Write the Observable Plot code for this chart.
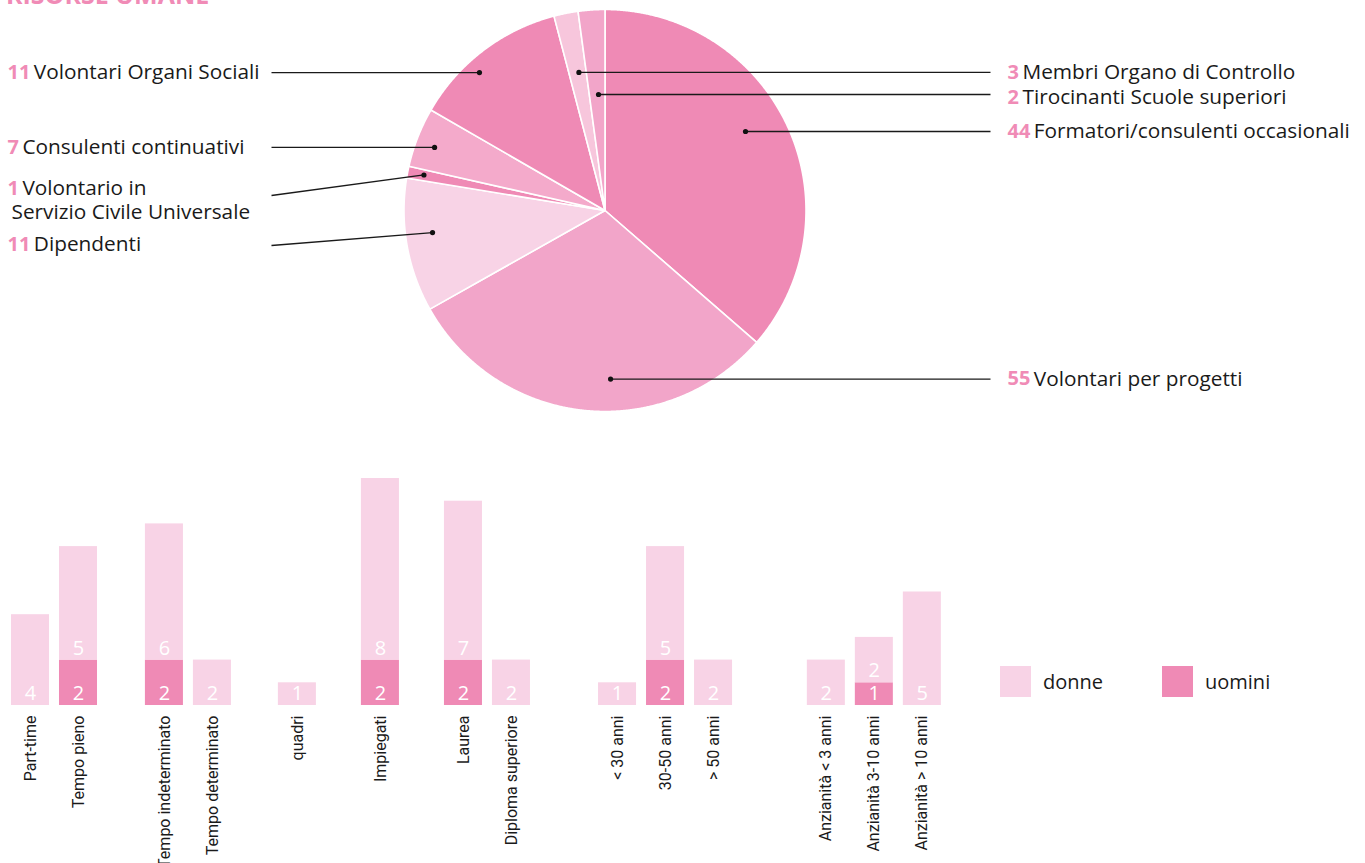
<!DOCTYPE html>
<html><head><meta charset="utf-8">
<script src="https://cdn.jsdelivr.net/npm/d3@7"></script>
<script src="https://cdn.jsdelivr.net/npm/@observablehq/plot@0.6"></script>
<style>
body{margin:0;background:#fff;width:1365px;height:863px;overflow:hidden;position:relative;font-family:"Open Sans",sans-serif;}
#title{position:absolute;left:6px;top:-18px;font:700 25px/25px "Open Sans";color:#F08BB6;white-space:nowrap}
#pie{position:absolute;left:0;top:0}
#bars{position:absolute;left:0;top:420px}
#legend{position:absolute;left:1000px;top:666px;display:flex;align-items:center;font:20px "Open Sans";color:#1a1a1a}
#legend .item{display:flex;align-items:center;width:162px}
#legend .sw{width:31px;height:31px;margin-right:12px}
</style></head><body>
<div id="title">RISORSE UMANE</div>
<div id="pie"></div><div id="bars"></div><div id="legend"></div>
<script>
// ---------- DATA ----------
const pieCategories = ["Formatori/consulenti occasionali","Volontari per progetti","Dipendenti","Volontario in\nServizio Civile Universale","Consulenti continuativi","Volontari Organi Sociali","Membri Organo di Controllo","Tirocinanti Scuole superiori"];
const pieCounts = [44, 55, 11, 1, 7, 11, 3, 2];
// slice sizes as drawn in the picture (degrees of arc)
const pieSliceDegrees = [131, 109.6, 38.7, 3.4, 17.3, 45.3, 7.0, 7.7];

const barCategories = ["Part-time","Tempo pieno","Tempo indeterminato","Tempo determinato","quadri","Impiegati","Laurea","Diploma superiore","< 30 anni","30-50 anni","> 50 anni","Anzianità < 3 anni","Anzianità 3-10 anni","Anzianità > 10 anni"];
const barGroups = [0,0,1,1,2,3,4,4,5,5,5,6,6,6];
const donne  = [4,5,6,2,1,8,7,2,1,5,2,2,2,5];
const uomini = [0,2,2,0,0,2,2,0,0,2,0,0,1,0];
const seriesNames = ["donne","uomini"];

// ---------- STYLE / LAYOUT ----------
const DARK = "#EF8AB5", MED = "#F2A5C9", LIGHT = "#F8D3E6";
const pieColors = [DARK, MED, LIGHT, DARK, "#F4AACB", DARK, "#F7C6DC", MED];
const seriesColors = [LIGHT, DARK];
const cx = 604.5, cy = 210, R = 201;
const pieLayout = [
  {side:"right", angle:60.65, rf:0.802, labelY:131},
  {side:"right", angle:178.1, rf:0.839, labelY:379},
  {side:"left",  angle:262.7, rf:0.865, labelY:244, lineY:245},
  {side:"left",  angle:281.1, rf:0.918, labelY:188, lineY:195},
  {side:"left",  angle:290.3, rf:0.904, labelY:147},
  {side:"left",  angle:317.7, rf:0.928, labelY:72},
  {side:"right", angle:349.3, rf:0.699, labelY:72},
  {side:"right", angle:356.8, rf:0.578, labelY:97, lineY:94}
];
const labelX = {left:7, right:1007}, lineEndX = {left:271, right:990};
const labelFont = "Open Sans", labelSize = 20.8, numSize = 20;
const groupGaps = [0.79, 0.77, 0.73, 0.73, 1.21, 1.35];

// ---------- PIE ----------
const rad = d => d * Math.PI / 180;
const arcs = d3.pie().sort(null).value(d => d)(pieSliceDegrees);
const polyRows = [];
arcs.forEach((a, i) => {
  const n = Math.max(2, Math.ceil((a.endAngle - a.startAngle) / rad(0.25)));
  polyRows.push({slice:i, x:cx, y:cy, c:pieColors[i]});
  for (let k = 0; k <= n; k++) {
    const t = a.startAngle + (a.endAngle - a.startAngle) * k / n;
    polyRows.push({slice:i, x:cx + R*Math.sin(t), y:cy - R*Math.cos(t), c:pieColors[i]});
  }
  polyRows.push({slice:i, x:cx, y:cy, c:pieColors[i]});
});

const ctx = document.createElement("canvas").getContext("2d");
function tw(s, weight, size){ ctx.font = `${weight} ${size}px "${labelFont}"`; return ctx.measureText(s).width; }

const dots = [], links = [], numTexts = [], nameTexts = [];
pieLayout.forEach((L, i) => {
  const dx = cx + L.rf*R*Math.sin(rad(L.angle));
  const dy = cy - L.rf*R*Math.cos(rad(L.angle));
  dots.push({x:dx, y:dy});
  const ly = L.lineY !== undefined ? L.lineY : dy;
  const ty = L.lineY !== undefined ? L.labelY : dy;
  links.push({x1:lineEndX[L.side], y1:ly, x2:dx, y2:dy});
  const x0 = labelX[L.side];
  const num = String(pieCounts[i]);
  numTexts.push({x:x0, y:ty, text:num});
  const sp = 3.5;
  const lines = pieCategories[i].split("\n");
  lines.forEach((ln, k) => {
    nameTexts.push({x: k === 0 ? x0 + tw(num, 700, numSize) + sp : x0 + 4, y: ty + k*24, text: ln});
  });
});

const piePlot = Plot.plot({
  width:1365, height:420, margin:0,
  x:{domain:[0,1365], range:[0,1365], axis:null},
  y:{domain:[0,420], range:[0,420], axis:null},
  color:{type:"identity"},
  marks:[
    Plot.line(polyRows, {x:"x", y:"y", z:"slice", fill:"c", stroke:"white", strokeWidth:1.6, strokeLinejoin:"round"}),
    Plot.link(links, {x1:"x1", y1:"y1", x2:"x2", y2:"y2", stroke:"#1a1a1a", strokeWidth:1.3}),
    Plot.dot(dots, {x:"x", y:"y", r:2.6, fill:"#111", stroke:null}),
    Plot.text(numTexts, {x:"x", y:"y", text:"text", textAnchor:"start", lineAnchor:"middle", fill:"#F08BB6", fontWeight:700, fontSize:numSize, fontFamily:labelFont}),
    Plot.text(nameTexts, {x:"x", y:"y", text:"text", textAnchor:"start", lineAnchor:"middle", fill:"#1a1a1a", fontSize:labelSize, fontFamily:labelFont})
  ]
});
document.getElementById("pie").append(piePlot);

// ---------- BARS ----------
const pos = barCategories.map((c, i) => i + d3.sum(groupGaps.slice(0, barGroups[i])));
const segs = [];
barCategories.forEach((c, i) => {
  if (uomini[i] > 0) segs.push({cat:c, p:pos[i], s:"uomini", y1:0, y2:uomini[i], v:uomini[i]});
  if (donne[i] > 0) segs.push({cat:c, p:pos[i], s:"donne", y1:uomini[i], y2:uomini[i] + donne[i], v:donne[i]});
});
const catRows = barCategories.map((c, i) => ({cat:c, p:pos[i]}));
const hw = 0.396;

const barPlot = Plot.plot({
  width:1365, height:443,
  x:{domain:[0,1], range:[30,78], axis:null},
  y:{domain:[0,10], range:[285,58], axis:null},
  color:{domain:seriesNames, range:seriesColors},
  marks:[
    Plot.rectY(segs, {x1:d => d.p - hw, x2:d => d.p + hw, y1:"y1", y2:"y2", fill:"s"}),
    Plot.text(segs, {x:"p", y:"y1", text:d => String(d.v), dy:-12, lineAnchor:"middle", fill:"white", fontSize:20, fontFamily:"Open Sans"}),
    Plot.text(catRows, {x:"p", y:0, text:"cat", rotate:-90, textAnchor:"end", lineAnchor:"middle", dy:10, fill:"#1a1a1a", fontSize:16, fontFamily:"Roboto"})
  ]
});
document.getElementById("bars").append(barPlot);

// ---------- LEGEND ----------
const leg = document.getElementById("legend");
seriesNames.forEach((n, i) => {
  const it = document.createElement("div"); it.className = "item";
  const sw = document.createElement("span"); sw.className = "sw"; sw.style.background = seriesColors[i];
  const tx = document.createElement("span"); tx.textContent = n;
  it.append(sw, tx); leg.append(it);
});
</script>
</body></html>
